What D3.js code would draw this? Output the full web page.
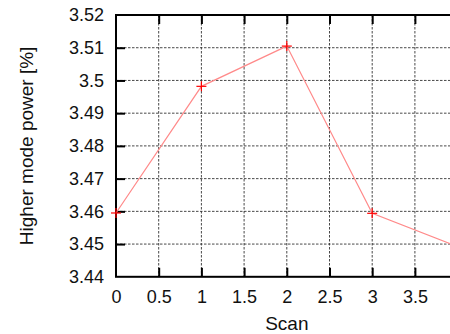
<!DOCTYPE html>
<html>
<head>
<meta charset="utf-8">
<script src="https://cdn.jsdelivr.net/npm/d3@7"></script>
<style>
  html, body { margin: 0; padding: 0; background: #fff; }
  svg { display: block; }
  text { font-family: "Liberation Sans", Arial, sans-serif; fill: #111; }
</style>
</head>
<body>
<svg id="chart" width="450" height="334"></svg>
<script>
// Scan number and the measured higher-mode power per scan
const scans = [0, 1, 2, 3, 4];
const power = [3.4595, 3.4982, 3.5105, 3.4594, 3.4492];
const xTicks = [0, 0.5, 1, 1.5, 2, 2.5, 3, 3.5, 4];
const yTicks = [3.44, 3.45, 3.46, 3.47, 3.48, 3.49, 3.5, 3.51, 3.52];

const svg = d3.select("#chart");
const margin = { left: 116, top: 15 };
const plotW = 341.6, plotH = 261.8;

const x = d3.scaleLinear().domain([0, 4]).range([margin.left, margin.left + plotW]);
const y = d3.scaleLinear().domain([3.44, 3.52]).range([margin.top + plotH, margin.top]);

svg.append("defs").append("clipPath").attr("id", "plotclip")
  .append("rect").attr("x", margin.left).attr("y", margin.top)
  .attr("width", plotW).attr("height", plotH);

// Dashed grid
const grid = svg.append("g").attr("stroke", "#333").attr("stroke-width", 0.9)
  .attr("stroke-dasharray", "2.5,1.5");
grid.selectAll("line.v").data(xTicks.filter(d => d > 0 && d < 4)).join("line")
  .attr("x1", d => x(d)).attr("x2", d => x(d))
  .attr("y1", margin.top).attr("y2", margin.top + plotH);
grid.selectAll("line.h").data(yTicks.filter(d => d > 3.44 && d < 3.52)).join("line")
  .attr("x1", margin.left).attr("x2", margin.left + plotW)
  .attr("y1", d => y(d)).attr("y2", d => y(d));

// Axes with inward ticks (bottom/left labelled, top mirrored)
const fmtX = d => d3.format("")(d);
const fmtY = d => (+d.toFixed(2)).toString();

const xAxis = svg.append("g").attr("transform", `translate(0,${margin.top + plotH})`)
  .call(d3.axisBottom(x).tickValues(xTicks.filter(d => d < 4)).tickSize(-9).tickPadding(13.5).tickFormat(fmtX));
const xTop = svg.append("g").attr("transform", `translate(0,${margin.top})`)
  .call(d3.axisTop(x).tickValues(xTicks.filter(d => d < 4)).tickSize(-9).tickFormat(""));
const yAxis = svg.append("g").attr("transform", `translate(${margin.left},0)`)
  .call(d3.axisLeft(y).tickValues(yTicks).tickSize(-9).tickPadding(12).tickFormat(fmtY));

[xAxis, xTop, yAxis].forEach(g => {
  g.select(".domain").remove();
  g.selectAll(".tick line").attr("stroke", "#000").attr("stroke-width", 2);
  g.selectAll(".tick text").attr("font-size", 18).attr("fill", "#111")
    .style("font-family", "'Liberation Sans', Arial, sans-serif");
});
// hide end ticks that sit on the frame
yAxis.selectAll(".tick").filter(d => d === 3.44 || d === 3.52).select("line").remove();
xAxis.selectAll(".tick").filter(d => d === 0).select("line").remove();
xTop.selectAll(".tick").filter(d => d === 0).select("line").remove();

// Frame
svg.append("rect").attr("x", margin.left).attr("y", margin.top)
  .attr("width", plotW).attr("height", plotH)
  .attr("fill", "none").attr("stroke", "#000").attr("stroke-width", 2);

// Data line and markers
const pts = scans.map((s, i) => [s, power[i]]);
const plot = svg.append("g").attr("clip-path", "url(#plotclip)");
plot.append("path").datum(pts)
  .attr("d", d3.line().x(d => x(d[0])).y(d => y(d[1])))
  .attr("fill", "none").attr("stroke", "#ff8a8a").attr("stroke-width", 1.2);

const mk = svg.append("g").attr("stroke", "#ff0000").attr("stroke-width", 1.2);
pts.forEach(d => {
  const cx = x(d[0]), cy = y(d[1]);
  if (cx > 450) return;
  mk.append("line").attr("x1", cx - 5).attr("x2", cx + 5).attr("y1", cy).attr("y2", cy);
  mk.append("line").attr("x1", cx).attr("x2", cx).attr("y1", cy - 5).attr("y2", cy + 5);
});

// Axis titles
svg.append("text").attr("x", x(2)).attr("y", 330)
  .attr("text-anchor", "middle").attr("font-size", 19).text("Scan");
svg.append("text").attr("transform", `translate(33,${margin.top + plotH / 2}) rotate(-90)`)
  .attr("text-anchor", "middle").attr("font-size", 19).text("Higher mode power [%]");
</script>
</body>
</html>
